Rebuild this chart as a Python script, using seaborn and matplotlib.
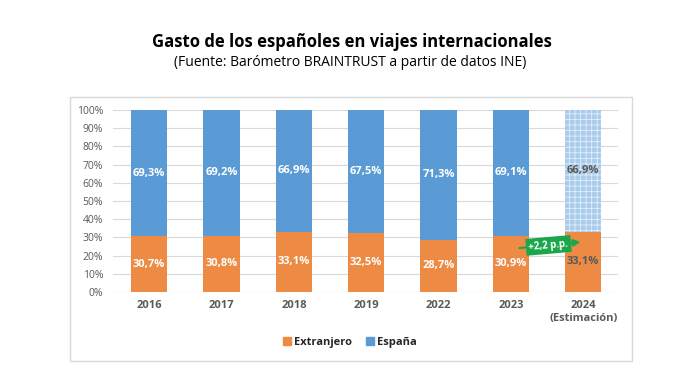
import matplotlib.pyplot as plt
import matplotlib.patches as mpatches
import numpy as np
import pandas as pd
import seaborn as sns

# data
years = ['2016', '2017', '2018', '2019', '2022', '2023', '2024\n(Estimación)']
extranjero = [30.7, 30.8, 33.1, 32.5, 28.7, 30.9, 33.1]
espana = [69.3, 69.2, 66.9, 67.5, 71.3, 69.1, 66.9]
y_ticks = [0, 10, 20, 30, 40, 50, 60, 70, 80, 90, 100]

orange = '#ED8B45'
blue = '#5B9BD5'

sns.set_theme(style='white')
plt.rcParams['font.family'] = ['Open Sans', 'DejaVu Sans']
plt.rcParams['hatch.linewidth'] = 0.6

df = pd.DataFrame({'year': years, 'ext': extranjero, 'esp': espana})
df['total'] = df['ext'] + df['esp']

fig = plt.figure(figsize=(6.91, 3.84), dpi=100)
ax = fig.add_axes([113 / 691, 1 - 292 / 384, (618 - 113) / 691, (292 - 110) / 384])

# outer frame
fig.add_artist(mpatches.Rectangle((70 / 691, 1 - 361 / 384), (632 - 70) / 691, (361 - 97) / 384,
                                  transform=fig.transFigure, fill=False, edgecolor='#D9D9D9', lw=1))

width = 0.5
# stacked: total first (blue), then orange on top
sns.barplot(data=df, x='year', y='total', color=blue, width=width,
            saturation=1, ax=ax, zorder=2, linewidth=0)
sns.barplot(data=df, x='year', y='ext', color=orange, width=width, saturation=1, ax=ax, zorder=3,
            linewidth=0)

# estimate bar: hatched light blue top
n = len(years)
top_patch = ax.patches[n - 1]
top_patch.set_facecolor('#A9CBEC')
top_patch.set_hatch('+++')
top_patch.set_edgecolor('#E4EEF9')
top_patch.set_linewidth(0)

for i in range(n):
    est = i == n - 1
    c = '#595959' if est else 'white'
    ax.text(i, extranjero[i] / 2, f'{extranjero[i]:.1f}%'.replace('.', ','), ha='center', va='center',
            color=c, fontsize=8, fontweight='bold', zorder=5)
    ax.text(i, extranjero[i] + espana[i] / 2, f'{espana[i]:.1f}%'.replace('.', ','), ha='center', va='center',
            color=c, fontsize=8, fontweight='bold', zorder=5)

# green arrow
ax.annotate('', xy=(6.0, 27.6), xytext=(5.08, 24.0),
            arrowprops=dict(arrowstyle='-|>', color='#1AA64A', lw=1.5, mutation_scale=10), zorder=6)
ax.text(5.52, 25.6, '+2,2 p.p.', ha='center', va='center', rotation=5, color='white', fontsize=7,
        fontweight='bold', zorder=7,
        bbox=dict(boxstyle='square,pad=0.3', facecolor='#1AA64A', edgecolor='none'))

ax.set_ylim(0, 100)
ax.set_xlim(-0.5, 6.48)
ax.set_yticks(y_ticks)
ax.set_yticklabels([f'{t}%' for t in y_ticks], color='#595959', fontsize=7.5)
ax.yaxis.grid(True, color='#D9D9D9', lw=0.8, zorder=0)
ax.set_axisbelow(True)
ax.tick_params(axis='x', length=0, pad=6, labelsize=8, labelcolor='#595959')
for lbl in ax.get_xticklabels():
    lbl.set_fontweight('bold')
ax.tick_params(axis='y', length=0, pad=7)
ax.set_xlabel('')
ax.set_ylabel('')
for s in ax.spines.values():
    s.set_visible(False)
ax.axhline(0, color='#D9D9D9', lw=0.8, zorder=1)

# legend
handles = [mpatches.Patch(color=orange, label='Extranjero'),
           mpatches.Patch(color=blue, label='España')]
fig.legend(handles=handles, loc='center', bbox_to_anchor=(350 / 691, 1 - 342 / 384), ncol=2,
           frameon=False, handlelength=0.7, handleheight=0.7, handletextpad=0.3, columnspacing=1.2,
           prop={'weight': 'bold', 'size': 8})

fig.text(352 / 691, 1 - 42 / 384, 'Gasto de los españoles en viajes internacionales', ha='center', va='center',
         fontsize=12, fontweight='bold', color='black')
fig.text(350 / 691, 1 - 62 / 384, '(Fuente: Barómetro BRAINTRUST a partir de datos INE)', ha='center',
         va='center', fontsize=10, color='black')

plt.savefig('out.png', dpi=100, facecolor='white')
